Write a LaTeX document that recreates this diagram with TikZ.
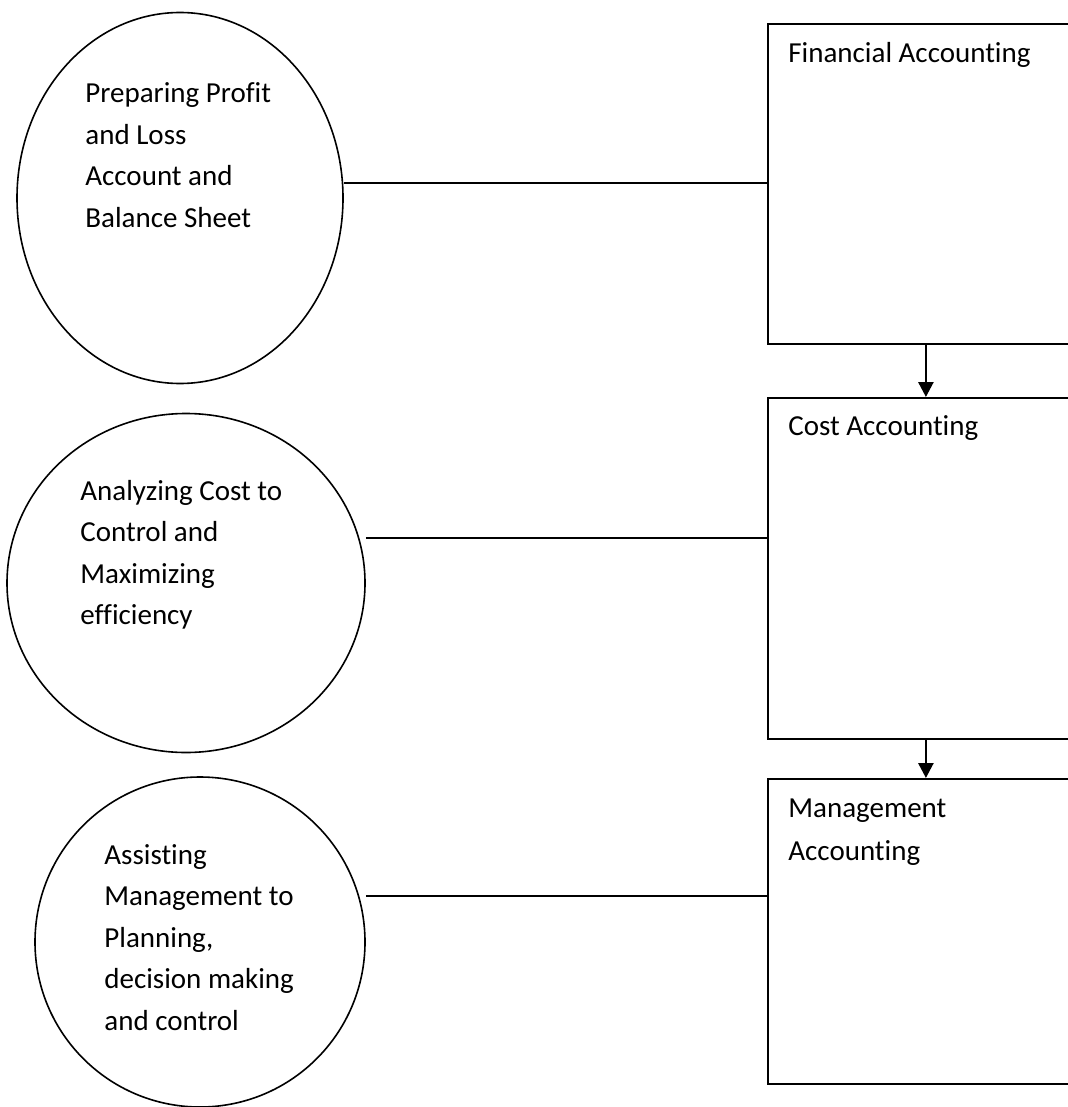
\documentclass[tikz,border=0pt]{standalone}
\usepackage{fontspec}
\setmainfont{Carlito}[Ligatures=NoCommon]
\usetikzlibrary{shapes.geometric,arrows.meta,positioning}

\begin{document}
\begin{tikzpicture}[x=0.5pt,y=-0.5pt,
    oval/.style={draw,ellipse,line width=0.8pt,inner sep=0pt},
    acbox/.style={draw,rectangle,line width=0.9pt,anchor=north west,
                  minimum width=158pt,inner sep=0pt},
    txt/.style={font=\fontsize{14.5}{20.75}\selectfont,align=left,
                inner sep=0pt,anchor=base west},
    tie/.style={line width=0.8pt},
    down/.style={line width=1.35pt,-{Triangle[width=7.5pt,length=7.5pt]}}]
  % Frame
  \useasboundingbox (0,0) rectangle (1068,1107);
  \clip (0,0) rectangle (1068,1107);

  % Ovals
  \node[oval,minimum width=163pt,minimum height=185.5pt] (prep) at (180,198) {};
  \node[oval,minimum width=179pt,minimum height=169.5pt] (anal) at (186,583) {};
  \node[oval,minimum width=165pt,minimum height=165pt] (assist) at (200,942) {};

  % Oval texts (placed at the baseline of their last line)
  \node[txt] (preptext) at (85,227.5) {Preparing Profit\\and Loss\\Account and\\Balance Sheet};
  \node[txt] (analtext) at (80,624.5) {Analyzing Cost to\\Control and\\Maximizing\\efficiency};
  \node[txt] (assisttext) at (104,1030) {Assisting\\Management to\\Planning,\\decision making\\and control};

  % Boxes
  \node[acbox,minimum height=160pt] (fin) at (767,23) {};
  \node[acbox,minimum height=170.5pt] (cost) at (767,397) {};
  \node[acbox,minimum height=152.5pt] (mgmt) at (767,778) {};

  \node[txt] (fintext) at (788,63) {Financial Accounting};
  \node[txt] (costtext) at (788,435) {Cost Accounting};
  \node[txt,font=\fontsize{14.5}{21.5}\selectfont] (mgmttext) at (788,860) {Management\\Accounting};

  % Links
  \draw[tie] ([yshift=7.5pt]prep.east) coordinate (p1) -- (p1 -| fin.west);
  \draw[tie] ([yshift=22.5pt]anal.east) coordinate (p2) -- (p2 -| cost.west);
  \draw[tie] ([yshift=23pt]assist.east) coordinate (p3) -- (p3 -| mgmt.west);

  \draw[down] (fin.south) -- (cost.north);
  \draw[down] (cost.south) -- (mgmt.north);
\end{tikzpicture}
\end{document}
